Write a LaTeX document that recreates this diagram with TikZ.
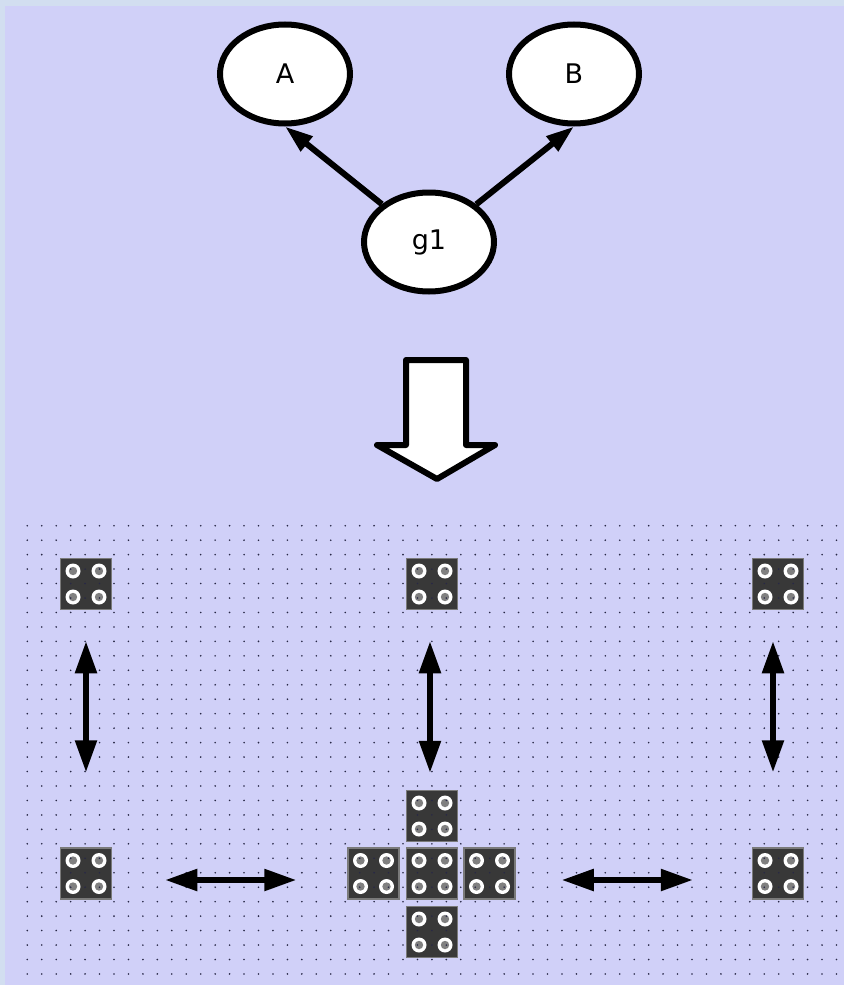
\documentclass[tikz,border=0pt]{standalone}
\usepackage{fontspec}
\setmainfont{DejaVu Sans}
\usetikzlibrary{shapes.geometric,arrows.meta,calc}
\definecolor{frame}{RGB}{210,222,240}
\definecolor{canvas}{RGB}{208,208,248}
\definecolor{diebody}{RGB}{56,56,56}
\definecolor{dieedge}{RGB}{122,122,122}
\definecolor{pipcore}{RGB}{128,128,128}
\definecolor{griddot}{RGB}{40,40,70}

\begin{document}
\begin{tikzpicture}[x=1pt,y=-1pt,
  state/.style={ellipse, draw, line width=6pt, fill=white,
    minimum width=130pt, minimum height=99pt, inner sep=0pt,
    font=\fontsize{27}{32}\selectfont},
  link/.style={line width=6pt, -{Triangle[length=28pt,width=18pt]}},
  swap/.style={line width=5.5pt,
    {Triangle[length=32pt,width=21pt]}-{Triangle[length=32pt,width=21pt]}},
  die/.style={rectangle, draw=dieedge, line width=1.5pt, fill=diebody,
    minimum size=51pt, inner sep=0pt,
    path picture={
      \foreach \dx in {-13,13}
        \foreach \dy in {-13,13} {
          \fill[white] ($(path picture bounding box.center)+(\dx,\dy)$) circle (7.5pt);
          \fill[pipcore] ($(path picture bounding box.center)+(\dx,\dy)$) circle (4.2pt);
        }
    }},
]
% canvas with its light frame
\fill[frame] (0,0) rectangle (844,985);
\fill[canvas] (5,6) rectangle (844,985);
\useasboundingbox (0,0) rectangle (844,985);

% graph
\node[state] (A)  at (285,74)  {A};
\node[state] (B)  at (574,74)  {B};
\node[state] (g1) at (429,242) {g1};
\draw[link] (g1) -- (A.south);
\draw[link] (g1) -- (B.south);

% big transformation arrow
\draw[line width=6pt, line join=round, fill=white]
  (406,360) -- (466,360) -- (466,445) -- (495,445) -- (437,479)
  -- (377,445) -- (406,445) -- cycle;

% dice
\node[die] (tl) at (86,584)   {};
\node[die] (tm) at (432,584)  {};
\node[die] (tr) at (778,584)  {};
\node[die] (bl) at (86,873.5) {};
\node[die] (br) at (778,873.5) {};
\node[die] (cc) at (432,873.5) {};
\node[die] (cn) at (432,816)  {};
\node[die] (cs) at (432,932)  {};
\node[die] (cw) at (373.5,873.5) {};
\node[die] (ce) at (489.5,873.5) {};

% dotted grid
\foreach \i in {0,...,56}
  \foreach \j in {0,...,31}
    \fill[griddot] ({27.3+\i*14.45},{525.7+\j*14.46}) circle (0.9pt);

% neighbour arrows
\draw[swap, shorten <=31pt, shorten >=75pt] (tl.south) -- (bl.north);
\draw[swap, shorten <=31pt, shorten >=17pt] ([xshift=-2pt]tm.south) -- ([xshift=-2pt]cn.north);
\draw[swap, shorten <=31pt, shorten >=75pt] ([xshift=-5pt]tr.south) -- ([xshift=-5pt]br.north);
\draw[swap, shorten <=53pt, shorten >=51pt] ([yshift=-6.5pt]bl.east) -- ([yshift=-6.5pt]cw.west);
\draw[swap, shorten <=46pt, shorten >=59pt] ([yshift=-6.5pt]ce.east) -- ([yshift=-6.5pt]br.west);
\end{tikzpicture}
\end{document}
